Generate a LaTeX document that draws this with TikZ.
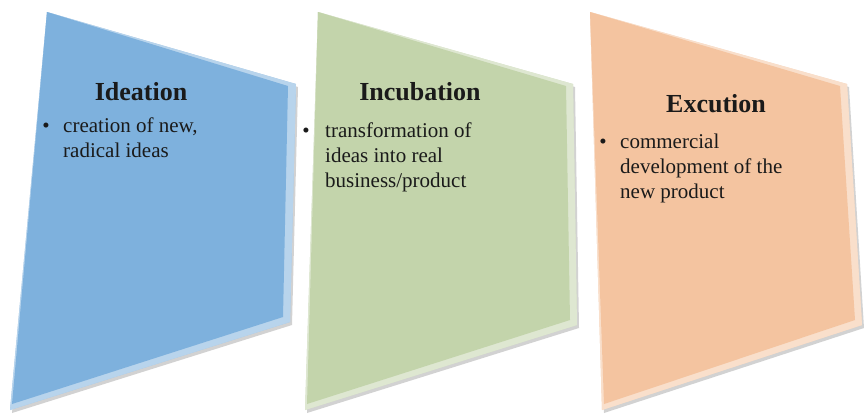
\documentclass[tikz,border=0pt]{standalone}
\usepackage{fontspec}
\setmainfont{Liberation Serif}
\usetikzlibrary{shadows,calc}
\definecolor{cblue}{HTML}{7EB1DD}
\definecolor{cgreen}{HTML}{C3D4AB}
\definecolor{corange}{HTML}{F4C4A0}
\definecolor{txt}{HTML}{1A1A1A}
\newcommand{\toplines}[1]{\begin{tabular}[t]{@{}l@{}}#1\end{tabular}}
\tikzset{
  panel/.style={fill=#1, drop shadow={shadow xshift=2pt,shadow yshift=-3pt,opacity=0.35}},
  bevel/.style={fill=#1!55!white},
  inner/.style={fill=#1},
  heading/.style={font=\fontsize{26}{30}\selectfont\bfseries, text=txt, anchor=base},
  bullet/.style={font=\fontsize{21}{25}\selectfont, text=txt, anchor=base west, inner sep=0pt},
  dot/.style={font=\fontsize{21}{25}\selectfont, text=txt, anchor=base, inner sep=0pt}
}
\begin{document}
\begin{tikzpicture}[x=1pt,y=-1pt]
\useasboundingbox (0,0) rectangle (864,413);
\fill[white] (0,0) rectangle (864,413);
% panel 1
\path[panel=cblue!70!white] (47,12) -- (296,84) -- (290,322) -- (10,410) -- cycle;
\path[bevel=cblue] (47,12) -- (296,84) -- (290,322) -- (10,410) -- cycle;
\path[inner=cblue] (47,12) -- (288,86) -- (283,317) -- (12,404) -- cycle;
% panel 2
\path[panel=cgreen!70!white] (318,12) -- (573,84) -- (577,325) -- (305,410) -- cycle;
\path[bevel=cgreen] (318,12) -- (573,84) -- (577,325) -- (305,410) -- cycle;
\path[inner=cgreen] (318,12) -- (566,86) -- (570,320) -- (307,404) -- cycle;
% panel 3
\path[panel=corange!70!white] (590,12) -- (847,84) -- (862,325) -- (602,410) -- cycle;
\path[bevel=corange] (590,12) -- (847,84) -- (862,325) -- (602,410) -- cycle;
\path[inner=corange] (590,12) -- (840,86) -- (855,320) -- (604,404) -- cycle;
% texts
\node[heading] (h1) at (141,100) {Ideation};
\node[dot] (d1) at (46,132) {•};
\node[bullet] (t1) at (63,132) {\toplines{creation of new,\\radical ideas}};
\node[heading] (h2) at (420,100) {Incubation};
\node[dot] (d2) at (306,137) {•};
\node[bullet] (t2) at (325,137) {\toplines{transformation of\\ideas into real\\business/product}};
\node[heading] (h3) at (716,112) {Excution};
\node[dot] (d3) at (603,148) {•};
\node[bullet] (t3) at (620,148) {\toplines{commercial\\development of the\\new product}};
\end{tikzpicture}
\end{document}
